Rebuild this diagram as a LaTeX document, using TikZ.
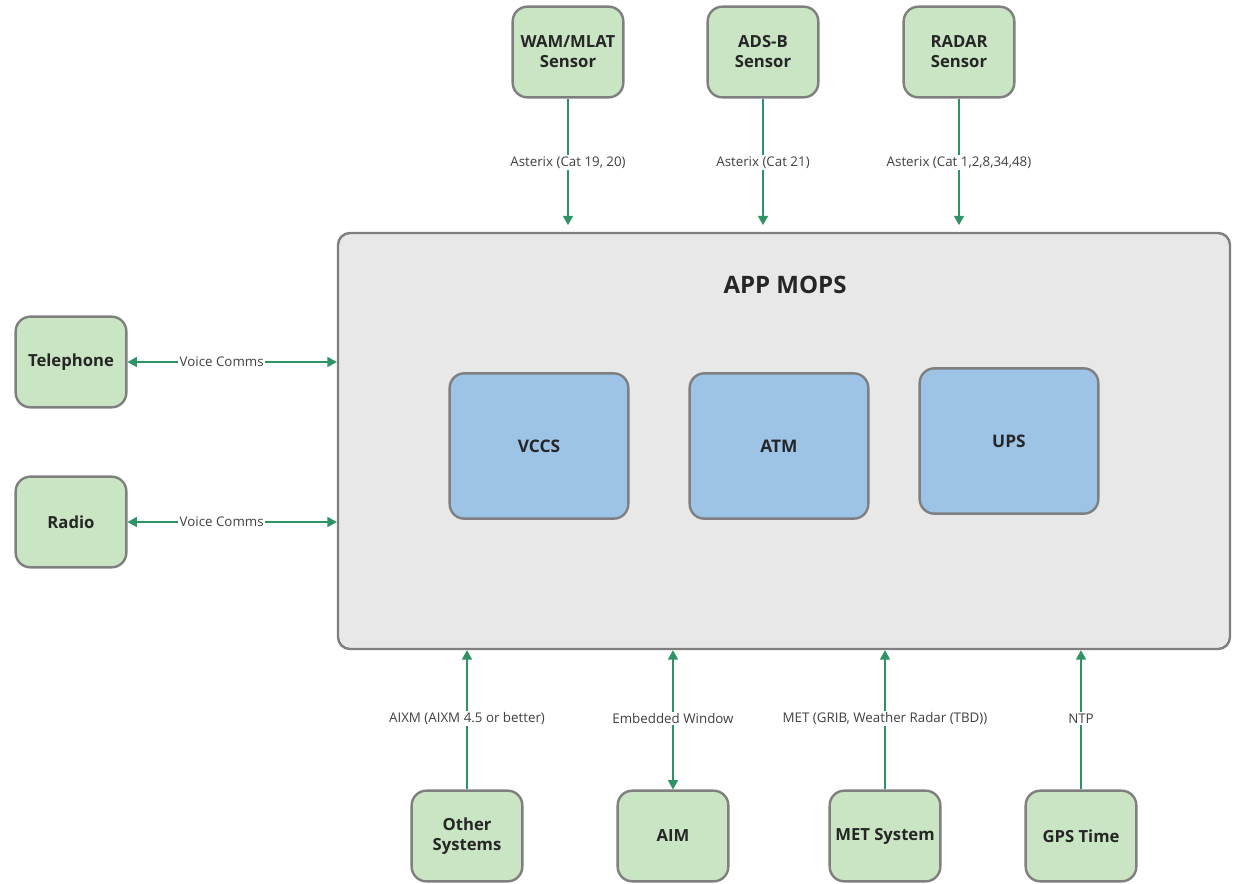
\documentclass[tikz,border=0pt]{standalone}
\usepackage{fontspec}
\setmainfont{Open Sans}
\usetikzlibrary{arrows.meta,calc}
\definecolor{gfill}{HTML}{C9E5C3}
\definecolor{bfill}{HTML}{9DC3E6}
\definecolor{mfill}{HTML}{E8E8E8}
\definecolor{edge}{HTML}{7F7F7F}
\definecolor{arr}{HTML}{2E9464}
\tikzset{
  gbox/.style={draw=edge, line width=1.8pt, fill=gfill, rounded corners=11pt,
    minimum width=83pt, minimum height=68pt, align=center, inner sep=1pt,
    font=\bfseries\fontsize{12.5}{15}\selectfont, text=black!85},
  bbox/.style={draw=edge, line width=1.8pt, fill=bfill, rounded corners=11pt,
    minimum width=134pt, minimum height=109pt, align=center,
    font=\bfseries\fontsize{13}{15}\selectfont, text=black!85},
  conn/.style={draw=arr, line width=1.1pt, -{Triangle[width=7.5pt,length=7pt]}},
  bconn/.style={draw=arr, line width=1.1pt, {Triangle[width=7.5pt,length=7pt]}-{Triangle[width=7.5pt,length=7pt]}},
  lab/.style={fill=white, inner sep=1pt, font=\fontsize{10}{12}\selectfont, text=black!75},
}
\begin{document}
\begin{tikzpicture}[x=0.75pt,y=-0.75pt]
\useasboundingbox (0,0) rectangle (1233,883);
% main
\node[draw=edge, line width=1.8pt, fill=mfill, rounded corners=9pt,
  minimum width=669pt, minimum height=312pt] (main) at (784,441) {};
\node[font=\bfseries\fontsize{18}{20}\selectfont, text=black!85] (title) at (785,285) {APP MOPS};
% inner
\node[bbox] (vccs) at (539,446) {VCCS};
\node[bbox] (atm) at (779,446) {ATM};
\node[bbox] (ups) at (1009,441) {UPS};
% top sensors
\node[gbox] (wam) at (568,52) {WAM/MLAT\\Sensor};
\node[gbox] (adsb) at (763,52) {ADS-B\\Sensor};
\node[gbox] (radar) at (959,52) {RADAR\\Sensor};
% left
\node[gbox] (tel) at (71,362) {Telephone};
\node[gbox] (radio) at (71,522) {Radio};
% bottom
\node[gbox] (other) at (467,836) {Other\\Systems};
\node[gbox] (aim) at (673,836) {AIM};
\node[gbox] (met) at (885,836) {MET System};
\node[gbox] (gps) at (1081,836) {GPS Time};
% top connectors
\draw[conn, shorten >=5pt] (wam.south) -- node[lab, pos=0.48] {Asterix (Cat 19, 20)} (wam.south |- main.north);
\draw[conn, shorten >=5pt] (adsb.south) -- node[lab, pos=0.48] {Asterix (Cat 21)} (adsb.south |- main.north);
\draw[conn, shorten >=5pt] (radar.south) -- node[lab, pos=0.48] {Asterix (Cat 1,2,8,34,48)} (radar.south |- main.north);
% left connectors
\draw[bconn] (tel.east) -- node[lab, pos=0.45] {Voice Comms} (tel.east -| main.west);
\draw[bconn] (radio.east) -- node[lab, pos=0.45] {Voice Comms} (radio.east -| main.west);
% bottom connectors
\draw[conn] (other.north) -- node[lab, pos=0.51] {AIXM (AIXM 4.5 or better)} (other.north |- main.south);
\draw[bconn] (aim.north) -- node[lab, pos=0.51] {Embedded Window} (aim.north |- main.south);
\draw[conn] (met.north) -- node[lab, pos=0.51] {MET (GRIB, Weather Radar (TBD))} (met.north |- main.south);
\draw[conn] (gps.north) -- node[lab, pos=0.51] {NTP} (gps.north |- main.south);
\end{tikzpicture}
\end{document}
